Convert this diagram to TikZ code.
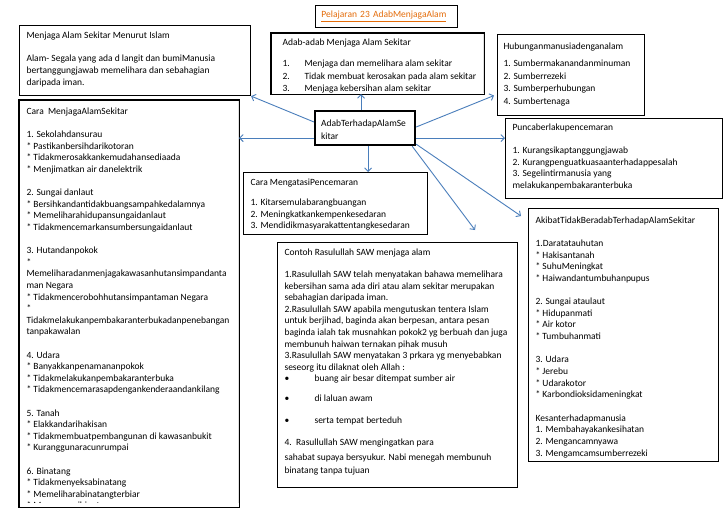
\documentclass[tikz,border=0pt]{standalone}
\usepackage{fontspec}
\setmainfont{Carlito}
\usetikzlibrary{arrows.meta,calc}
\definecolor{arrowblue}{RGB}{74,126,187}
\definecolor{titleorange}{RGB}{228,108,10}
\newcommand{\boxcontent}[5]{\parbox[c][#2][t]{#1}{\fontsize{9.5}{#4}\selectfont\raggedright\hyphenpenalty=10000\exhyphenpenalty=10000\hbadness=10000\hfuzz=60pt\vspace*{#3}\rule{0pt}{8pt}#5}}
\newcommand{\st}{{*}}
\tikzset{
  boxs/.style={draw=black, line width=1.1pt, inner xsep=7pt, inner ysep=0pt, anchor=north west, fill=white},
  conn/.style={draw=arrowblue, line width=0.9pt, -{Straight Barb[length=3.5pt,width=7pt]}},
}
\begin{document}
\begin{tikzpicture}[x=1pt,y=-1pt]
\useasboundingbox (0,0) rectangle (728,515);
\fill[white] (0,0) rectangle (728,515);

% title
\node[draw=black, line width=0.8pt, anchor=north west, minimum height=22pt, inner xsep=6pt, text width=130pt, align=left, font=\fontsize{9.5}{11.6}\selectfont] (T) at (315,5) {\textcolor{titleorange}{\underline{Pelajaran 23 AdabMenjagaAlam}}};

% A
\node[boxs] (A) at (19,25) {\boxcontent{217pt}{70pt}{5pt}{11.65pt}{Menjaga Alam Sekitar Menurut Islam\\[11.65pt]
Alam- Segala yang ada d langit dan bumiManusia\\
bertanggungjawab memelihara dan sebahagian\\
daripada iman.}};

% B
\begin{scope}
\clip (271,33) rectangle (483,92);
\node[boxs, inner xsep=11pt] (B) at (271,33) {\boxcontent{190pt}{60pt}{4pt}{12.5pt}{\mbox{Adab-adab Menjaga Alam Sekitar}\\[8.5pt]
\mbox{\makebox[22pt][l]{1.}Menjaga dan memelihara alam sekitar}\\
\mbox{\makebox[22pt][l]{2.}Tidak membuat kerosakan pada alam sekitar}\\
\mbox{\makebox[22pt][l]{3.}Menjaga kebersihan alam sekitar}}};
\end{scope}
\draw[line width=1.1pt] (B.north west) rectangle (B.south east);

% C
\node[boxs, inner xsep=6pt] (C) at (497,34) {\boxcontent{135pt}{81pt}{7pt}{12.6pt}{Hubunganmanusiadenganalam\\[4.4pt]
1. Sumbermakanandanminuman\\
2. Sumberrezeki\\
3. Sumberperhubungan\\
4. Sumbertenaga}};

% D
\begin{scope}
\clip (19,100) rectangle (238,502.5);
\node[boxs] (D) at (19,100) {\boxcontent{205pt}{406pt}{6pt}{11.6pt}{Cara\ \ MenjagaAlamSekitar\\[11.6pt]
1. Sekolahdansurau\\
\st{} Pastikanbersihdarikotoran\\
\st{} Tidakmerosakkankemudahansediaada\\
\st{} Menjimatkan air danelektrik\\[11.6pt]
2. Sungai danlaut\\
\st{} Bersihkandantidakbuangsampahkedalamnya\\
\st{} Memeliharahidupansungaidanlaut\\
\st{} Tidakmencemarkansumbersungaidanlaut\\[11.6pt]
3. Hutandanpokok\\
\st\\
Memeliharadanmenjagakawasanhutansimpandanta\\
man Negara\\
\st{} Tidakmencerobohhutansimpantaman Negara\\
\st\\
Tidakmelakukanpembakaranterbukadanpenebangan\\
tanpakawalan\\[11.6pt]
4. Udara\\
\st{} Banyakkanpenamananpokok\\
\st{} Tidakmelakukanpembakaranterbuka\\
\st{} Tidakmencemarasapdengankenderaandankilang\\[11.6pt]
5. Tanah\\
\st{} Elakkandarihakisan\\
\st{} Tidakmembuatpembangunan di kawasanbukit\\
\st{} Kuranggunaracunrumpai\\[11.6pt]
6. Binatang\\
\st{} Tidakmenyeksabinatang\\
\st{} Memeliharabinatangterbiar\\
\st{} Menyayangibinatang}};
\end{scope}
\draw[line width=1.1pt] (D.north west) rectangle (D.south east);

% F
\node[boxs] (F) at (505,118) {\boxcontent{203pt}{80pt}{4pt}{11.7pt}{Puncaberlakupencemaran\\[11.3pt]
1. Kurangsikaptanggungjawab\\
2. Kurangpenguatkuasaanterhadappesalah\\
3. Segelintirmanusia yang\\
melakukanpembakaranterbuka}};

% G
\node[boxs] (G) at (243,172) {\boxcontent{170pt}{62pt}{5pt}{11.5pt}{Cara MengatasiPencemaran\\[8.5pt]
1. Kitarsemulabarangbuangan\\
2. Meningkatkankempenkesedaran\\
3. Mendidikmasyarakattentangkesedaran}};

% H
\node[boxs] (H) at (277,242) {\boxcontent{226pt}{245pt}{5pt}{11.6pt}{Contoh Rasulullah SAW menjaga alam\\[10.4pt]
1.Rasulullah SAW telah menyatakan bahawa memelihara\\
kebersihan sama ada diri atau alam sekitar merupakan\\
sebahagian daripada iman.\\
2.Rasulullah SAW apabila mengutuskan tentera Islam\\
untuk berjihad, baginda akan berpesan, antara pesan\\
baginda ialah tak musnahkan pokok2 yg berbuah dan juga\\
membunuh haiwan ternakan pihak musuh\\
3.Rasulullah SAW menyatakan 3 prkara yg menyebabkan\\
seseorg itu dilaknat oleh Allah :\\
\makebox[30pt][l]{\textbullet}buang air besar ditempat sumber air\\[8.4pt]
\makebox[30pt][l]{\textbullet}di laluan awam\\[10.4pt]
\makebox[30pt][l]{\textbullet}serta tempat berteduh\\[10.4pt]
4.\ \ Rasullullah SAW mengingatkan para\\[3.4pt]
sahabat supaya bersyukur. Nabi menegah membunuh\\[1.4pt]
binatang tanpa tujuan}};

% I
\node[boxs] (I) at (528,208) {\boxcontent{176pt}{253pt}{6.5pt}{11.65pt}{AkibatTidakBeradabTerhadapAlamSekitar\\[11.65pt]
1.Daratatauhutan\\
\st{} Hakisantanah\\
\st{} SuhuMeningkat\\
\st{} Haiwandantumbuhanpupus\\[11.65pt]
2. Sungai ataulaut\\
\st{} Hidupanmati\\
\st{} Air kotor\\
\st{} Tumbuhanmati\\[11.65pt]
3. Udara\\
\st{} Jerebu\\
\st{} Udarakotor\\
\st{} Karbondioksidameningkat\\[11.65pt]
Kesanterhadapmanusia\\
1. Membahayakankesihatan\\
2. Mengancamnyawa\\
3. Mengamcamsumberrezeki}};

% E (centre)
\node[boxs, line width=2.2pt, inner xsep=6pt] (E) at (314,110) {\boxcontent{88pt}{34pt}{7pt}{13pt}{AdabTerhadapAlamSe\\kitar}};

% connectors
\coordinate (c7) at (475,230);
\draw[conn] ([yshift=-12pt]E.north west) -- (A.south east);
\draw[conn] ([xshift=-4pt]E.north) -- ([xshift=-4pt]E.north |- B.south);
\draw[conn] ([yshift=-17pt]E.north east) -- ([xshift=-3pt,yshift=-20.5pt]C.west);
\draw[conn] ([yshift=-10pt]E.west) -- ([yshift=-10pt]E.west -| D.east);
\draw[conn] ([yshift=-10pt]E.east) -- ([yshift=-10pt]E.east -| F.west);
\draw[conn] ([xshift=3pt]E.south) -- ([xshift=3pt]E.south |- G.north);
\draw[conn] ([xshift=-4pt]E.south east) -- (c7);
\draw[conn] ([yshift=2pt]E.south east) -- ([xshift=-7pt,yshift=-8pt]I.north west);
\end{tikzpicture}
\end{document}
